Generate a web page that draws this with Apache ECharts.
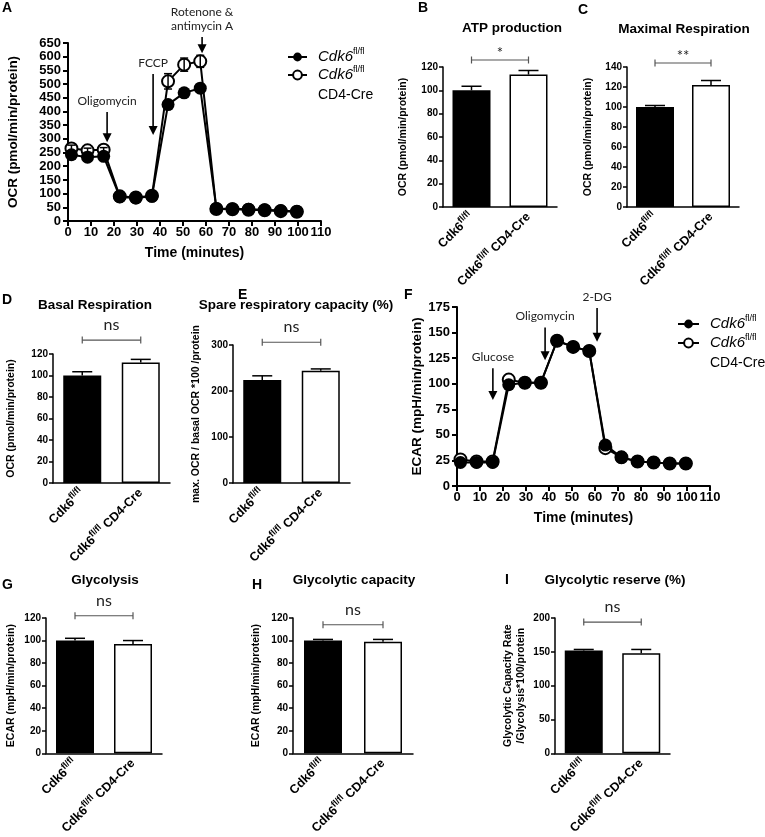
<!DOCTYPE html>
<html><head><meta charset="utf-8">
<script src="https://cdn.jsdelivr.net/npm/echarts@6/dist/echarts.min.js"></script>
<style>html,body{margin:0;padding:0;background:#fff}#c{width:765px;height:837px}</style>
</head><body><div id="c"></div>
<script>
// ---------------- data ----------------
const timeMin = [1.5, 8.5, 15.5, 22.5, 29.5, 36.5, 43.5, 50.5, 57.5, 64.5, 71.5, 78.5, 85.5, 92.5, 99.5];
const ocrWT  = [242, 233, 236, 88, 84, 90, 425, 468, 485, 46, 45, 43, 41, 38, 35];
const ocrKO  = [265, 258, 260, 90, 86, 92, 510, 571, 583, 44, 43, 41, 39, 36, 34];
const ocrKOErr = [12, 8, 8, 5, 5, 5, 28, 24, 22, 4, 4, 4, 4, 4, 4];
const ecarWT = [23, 23, 23, 99, 101, 101, 142, 136, 132, 40, 28, 24, 23, 22, 22];
const ecarKO = [26, 24, 24, 104, 101, 101, 142, 136, 132, 37, 28, 24, 23, 22, 22];

const ocrInjLabels = ['Oligomycin', 'FCCP', 'Rotenone &\nantimycin A'];
const ocrInjTime   = [17, 37, 58.3];
const ocrInjFrom   = [398, 537, 672];
const ocrInjTo     = [288, 314, 613];
const ecarInjLabels = ['Glucose', 'Oligomycin', '2-DG'];
const ecarInjTime   = [15.6, 38.3, 60.9];
const ecarInjFrom   = [115, 155, 174];
const ecarInjTo     = [84, 123, 141];

const groups = ['Cdk6fl/fl', 'Cdk6fl/fl CD4-Cre'];
const atpProd = [100, 113.5],  atpErr = [3.5, 3.5];
const maxResp = [100, 122],    maxErr = [1.5, 4.5];
const basalResp = [100, 112],  basalErr = [3.5, 3];
const spareCap = [224, 244],   spareErr = [9, 4];
const glycolysis = [100, 97],  glycolysisErr = [2, 3];
const glycoCap = [100, 99],    glycoCapErr = [1, 2];
const glycoRes = [152, 148],   glycoResErr = [1.5, 5.5];
const sigLabels = ['*', '**', 'ns', 'ns', 'ns', 'ns', 'ns'];
const sigLevels = [126, 144, 133, 306, 122, 114, 194];

// ---------------- style helpers ----------------
const ARIAL = '"Liberation Sans", Arial, sans-serif';
const CAL = 'Lato, "Open Sans", sans-serif';
const pairs = (xs, ys) => xs.map((x, i) => [x, ys[i]]);

const grids = [
  [68, 43, 253, 178],   // A
  [443, 67, 114, 140],  // B
  [627, 67, 112, 140],  // C
  [53, 354, 117, 129],  // D
  [233, 345, 117, 138], // E
  [457, 307, 253, 179], // F
  [46, 618, 116, 140],  // G
  [293, 618, 120, 140], // H
  [555, 618, 115, 140]  // I
];

const xAxes = [], yAxes = [], series = [];

function lineXAxis(gi) {
  return {type: 'value', gridIndex: gi, min: 0, max: 110, interval: 10,
    axisLine: {lineStyle: {color: '#000', width: 2}},
    axisTick: {length: 5, lineStyle: {color: '#000', width: 2}},
    axisLabel: {fontFamily: ARIAL, fontWeight: 'bold', fontSize: 13, color: '#000', margin: 5, showMinLabel: true, showMaxLabel: true},
    splitLine: {show: false},
    name: 'Time (minutes)', nameLocation: 'middle', nameGap: 25,
    nameTextStyle: {fontFamily: ARIAL, fontWeight: 'bold', fontSize: 14, color: '#000'}};
}
function lineYAxis(gi, max, interval, name, gap) {
  return {type: 'value', gridIndex: gi, min: 0, max: max, interval: interval,
    axisLine: {show: true, lineStyle: {color: '#000', width: 2}},
    axisTick: {show: true, length: 5, lineStyle: {color: '#000', width: 2}},
    axisLabel: {fontFamily: ARIAL, fontWeight: 'bold', fontSize: 13, color: '#000', margin: 7},
    splitLine: {show: false},
    name: name, nameLocation: 'middle', nameGap: gap,
    nameTextStyle: {fontFamily: ARIAL, fontWeight: 'bold', fontSize: 13.5, color: '#000'}};
}

function arrowRender(labels) {
  return function (params, api) {
    const p0 = api.coord([api.value(0), api.value(1)]);
    const p1 = api.coord([api.value(0), api.value(2)]);
    const head = 9, hw = 4.5;
    return {type: 'group', children: [
      {type: 'line', shape: {x1: p0[0], y1: p0[1], x2: p1[0], y2: p1[1] - head + 1}, style: {stroke: '#000', lineWidth: 1.6}},
      {type: 'polygon', shape: {points: [[p1[0] - hw, p1[1] - head], [p1[0] + hw, p1[1] - head], [p1[0], p1[1]]]}, style: {fill: '#000'}},
      {type: 'text', x: p0[0], y: p0[1] - 4, style: {text: labels[params.dataIndex], fontFamily: CAL, fontSize: 12, fill: '#222', lineHeight: 14,
        textAlign: 'center', textVerticalAlign: 'bottom', align: 'center', verticalAlign: 'bottom'}}
    ]};
  };
}
function errRender(capHalf, both) {
  return function (params, api) {
    const x = api.value(0), v = api.value(1), e = api.value(2);
    const pt = api.coord([x, v + e]);
    const pb = api.coord([x, both ? v - e : v]);
    const st = {stroke: '#000', lineWidth: 1.5, fill: null};
    const ch = [
      {type: 'line', shape: {x1: pb[0], y1: pb[1], x2: pt[0], y2: pt[1]}, style: st},
      {type: 'line', shape: {x1: pt[0] - capHalf, y1: pt[1], x2: pt[0] + capHalf, y2: pt[1]}, style: st}
    ];
    if (both) ch.push({type: 'line', shape: {x1: pb[0] - capHalf, y1: pb[1], x2: pb[0] + capHalf, y2: pb[1]}, style: st});
    return {type: 'group', children: ch};
  };
}
function bracketRender(label) {
  return function (params, api) {
    const a = api.coord([api.value(0), api.value(1)]);
    const b = api.coord([api.value(2), api.value(1)]);
    const st = {stroke: '#555', lineWidth: 1.2};
    const isStar = label.indexOf('*') >= 0;
    return {type: 'group', children: [
      {type: 'line', shape: {x1: a[0], y1: a[1], x2: b[0], y2: b[1]}, style: st},
      {type: 'line', shape: {x1: a[0], y1: a[1] - 3.5, x2: a[0], y2: a[1] + 3.5}, style: st},
      {type: 'line', shape: {x1: b[0], y1: b[1] - 3.5, x2: b[0], y2: b[1] + 3.5}, style: st},
      {type: 'text', x: (a[0] + b[0]) / 2, y: a[1] - (isStar ? 7 : 15),
        style: {text: label, fontFamily: CAL, fontSize: isStar ? 15 : 16, fill: '#222',
          textAlign: 'center', textVerticalAlign: 'middle', align: 'center', verticalAlign: 'middle'}}
    ]};
  };
}

// ---------------- Panel A (OCR time course) ----------------
xAxes.push(lineXAxis(0));
yAxes.push(lineYAxis(0, 650, 50, 'OCR (pmol/min/protein)', 48));
const styleWT = {symbol: 'circle', symbolSize: 13, itemStyle: {color: '#000'}, lineStyle: {color: '#000', width: 2}};
const styleKO = {symbol: 'circle', symbolSize: 12, itemStyle: {color: '#fff', borderColor: '#000', borderWidth: 2}, lineStyle: {color: '#000', width: 2}};
series.push(Object.assign({type: 'line', name: 'KO', xAxisIndex: 0, yAxisIndex: 0, z: 3, data: pairs(timeMin, ocrKO)}, styleKO));
series.push({type: 'custom', xAxisIndex: 0, yAxisIndex: 0, z: 4, clip: false, silent: true,
  renderItem: errRender(4, true), encode: {x: 0, y: 1},
  data: timeMin.map((t, i) => [t, ocrKO[i], ocrKOErr[i]])});
series.push(Object.assign({type: 'line', name: 'WT', xAxisIndex: 0, yAxisIndex: 0, z: 5, data: pairs(timeMin, ocrWT)}, styleWT));
series.push({type: 'custom', xAxisIndex: 0, yAxisIndex: 0, z: 6, clip: false, silent: true,
  renderItem: arrowRender(ocrInjLabels), encode: {x: 0, y: 1},
  data: ocrInjTime.map((t, i) => [t, ocrInjFrom[i], ocrInjTo[i]])});

// ---------------- Panel F (ECAR time course) ----------------
xAxes.push(lineXAxis(5));
yAxes.push(lineYAxis(5, 175, 25, 'ECAR (mpH/min/protein)', 30));
series.push(Object.assign({type: 'line', name: 'KO', xAxisIndex: 1, yAxisIndex: 1, z: 3, data: pairs(timeMin, ecarKO)}, styleKO));
series.push(Object.assign({type: 'line', name: 'WT', xAxisIndex: 1, yAxisIndex: 1, z: 5, data: pairs(timeMin, ecarWT)}, styleWT));
series.push({type: 'custom', xAxisIndex: 1, yAxisIndex: 1, z: 6, clip: false, silent: true,
  renderItem: arrowRender(ecarInjLabels), encode: {x: 0, y: 1},
  data: ecarInjTime.map((t, i) => [t, ecarInjFrom[i], ecarInjTo[i]])});

// ---------------- Bar panels ----------------
function fmtGroup(v) {
  const m = v.match(/^(Cdk6)(fl\/fl)(.*)$/);
  return '{b|' + m[1] + '}{s|' + m[2] + '}' + (m[3] ? '{b|' + m[3] + '}' : '');
}
const barRich = {
  b: {fontFamily: ARIAL, fontWeight: 'bold', fontSize: 12.5, color: '#000', lineHeight: 17},
  s: {fontFamily: ARIAL, fontWeight: 'bold', fontSize: 9, color: '#000', lineHeight: 10, verticalAlign: 'top'}
};
const barPanels = [
  {g: 1, v: atpProd, e: atpErr, max: 120, iv: 20, name: 'OCR (pmol/min/protein)', gap: 33},
  {g: 2, v: maxResp, e: maxErr, max: 140, iv: 20, name: 'OCR (pmol/min/protein)', gap: 32},
  {g: 3, v: basalResp, e: basalErr, max: 120, iv: 20, name: 'OCR (pmol/min/protein)', gap: 35},
  {g: 4, v: spareCap, e: spareErr, max: 300, iv: 100, name: 'max. OCR / basal OCR *100 /protein', gap: 30},
  {g: 6, v: glycolysis, e: glycolysisErr, max: 120, iv: 20, name: 'ECAR (mpH/min/protein)', gap: 28},
  {g: 7, v: glycoCap, e: glycoCapErr, max: 120, iv: 20, name: 'ECAR (mpH/min/protein)', gap: 30},
  {g: 8, v: glycoRes, e: glycoResErr, max: 200, iv: 50, name: 'Glycolytic Capacity Rate\n/Glycolysis*100/protein', gap: 27}
];
barPanels.forEach((p, k) => {
  const ai = xAxes.length;
  xAxes.push({type: 'category', gridIndex: p.g, data: groups,
    axisLine: {lineStyle: {color: '#000', width: 1.5}},
    axisTick: {alignWithLabel: true, length: 4, lineStyle: {color: '#000', width: 1.5}},
    axisLabel: {interval: 0, rotate: 45, margin: 8, formatter: fmtGroup, rich: barRich}});
  yAxes.push({type: 'value', gridIndex: p.g, min: 0, max: p.max, interval: p.iv,
    axisLine: {show: true, lineStyle: {color: '#000', width: 1.5}},
    axisTick: {show: true, length: 4, lineStyle: {color: '#000', width: 1.5}},
    axisLabel: {fontFamily: ARIAL, fontWeight: 'bold', fontSize: 10, color: '#000', margin: 5},
    splitLine: {show: false},
    name: p.name, nameLocation: 'middle', nameGap: p.gap,
    nameTextStyle: {fontFamily: ARIAL, fontWeight: 'bold', fontSize: 10.5, color: '#000', lineHeight: 13}});
  series.push({type: 'bar', xAxisIndex: ai, yAxisIndex: ai, barWidth: 38, z: 2,
    itemStyle: {borderColor: '#000', borderWidth: 1.5},
    data: p.v.map((v, i) => ({value: v, itemStyle: {color: i === 0 ? '#000' : '#fff'}}))});
  series.push({type: 'custom', xAxisIndex: ai, yAxisIndex: ai, z: 1, clip: false, silent: true,
    renderItem: errRender(10, false), encode: {x: 0, y: 1},
    data: p.v.map((v, i) => [i, v, p.e[i]])});
  series.push({type: 'custom', xAxisIndex: ai, yAxisIndex: ai, z: 3, clip: false, silent: true,
    renderItem: bracketRender(sigLabels[k]), encode: {x: 0, y: 1},
    data: [[0, sigLevels[k], 1]]});
});

// ---------------- legends ----------------
const legRich = {
  i: {fontFamily: ARIAL, fontStyle: 'italic', fontSize: 15, color: '#000', lineHeight: 20},
  s: {fontFamily: ARIAL, fontSize: 9, color: '#000', lineHeight: 10, verticalAlign: 'top'},
  n: {fontFamily: ARIAL, fontSize: 14, color: '#000', lineHeight: 20}
};
function mkLegend(name, left, top, two, w) {
  return {data: [name], left: left, top: top, orient: 'vertical', padding: 0, selectedMode: false,
    itemWidth: w, itemHeight: 11,
    formatter: () => two ? '{i|Cdk6}{s|fl/fl}\n{n|CD4-Cre}' : '{i|Cdk6}{s|fl/fl}',
    textStyle: {rich: legRich, padding: two ? [20, 0, 0, 6] : [0, 0, 0, 6]}};
}
const legends = [
  mkLegend('WT', 287, 47, false, 19), mkLegend('KO', 287, 65, true, 19),
  mkLegend('WT', 677, 314, false, 21), mkLegend('KO', 677, 333, true, 21)
];

// ---------------- text (panel letters & titles) ----------------
const letters = [['A', 2, 8], ['B', 418, 8], ['C', 578, 10], ['D', 2, 300], ['E', 238, 295],
  ['F', 404, 295], ['G', 2, 585], ['H', 252, 585], ['I', 505, 580]];
const titles = [['ATP production', 512, 28], ['Maximal Respiration', 684, 29], ['Basal Respiration', 95, 305],
  ['Spare respiratory capacity (%)', 296, 305], ['Glycolysis', 105, 580], ['Glycolytic capacity', 354, 580],
  ['Glycolytic reserve (%)', 615, 580]];
const graphic = [];
letters.forEach(l => graphic.push({type: 'text', x: l[1], y: l[2],
  style: {text: l[0], fontFamily: ARIAL, fontWeight: 'bold', fontSize: 14, fill: '#000',
    textAlign: 'left', textVerticalAlign: 'middle', align: 'left', verticalAlign: 'middle'}}));
titles.forEach(t => graphic.push({type: 'text', x: t[1], y: t[2],
  style: {text: t[0], fontFamily: ARIAL, fontWeight: 'bold', fontSize: 13.5, fill: '#000',
    textAlign: 'center', textVerticalAlign: 'middle', align: 'center', verticalAlign: 'middle'}}));

const chart = echarts.init(document.getElementById('c'), null, {renderer: 'canvas'});
chart.setOption({
  animation: false,
  backgroundColor: '#fff',
  grid: grids.map(g => ({left: g[0], top: g[1], width: g[2], height: g[3], containLabel: false})),
  xAxis: xAxes, yAxis: yAxes, series: series, legend: legends, graphic: graphic
});
</script></body></html>
